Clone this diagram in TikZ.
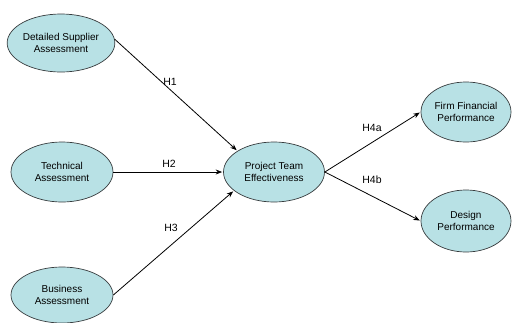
\documentclass[tikz,border=0pt]{standalone}
\usepackage{fontspec}
\setmainfont{Liberation Sans}
\usetikzlibrary{shapes.geometric,arrows.meta}
\definecolor{bubble}{RGB}{184,225,229}
\definecolor{rim}{RGB}{55,60,62}
\tikzset{
  construct/.style={ellipse, draw=rim, line width=0.7pt, fill=bubble,
    inner sep=0pt, align=center, font=\fontsize{10}{12}\selectfont},
  path/.style={draw=black, line width=0.8pt,
    -{Stealth[length=6.5pt,width=5pt]}, shorten >=1pt},
  hyp/.style={font=\fontsize{10.5}{12}\selectfont}
}
\begin{document}
\begin{tikzpicture}[x=1pt,y=-1pt]
  \useasboundingbox (0,0) rectangle (512,322);
  % constructs
  \node[construct, minimum width=102pt, minimum height=58pt] (dsa) at (61,43)
    {Detailed Supplier\\Assessment};
  \node[construct, minimum width=102pt, minimum height=60pt] (tec) at (62,172)
    {Technical\\Assessment};
  \node[construct, minimum width=102pt, minimum height=56pt] (bus) at (62,295)
    {Business\\Assessment};
  \node[construct, minimum width=101pt, minimum height=60pt] (pte) at (274,172)
    {Project Team\\Effectiveness};
  \node[construct, minimum width=90pt, minimum height=60pt] (ffp) at (466,112)
    {Firm Financial\\Performance};
  \node[construct, minimum width=90pt, minimum height=62pt] (dpf) at (466,221)
    {Design\\Performance};
  % hypothesised paths
  \draw[path] (dsa.4) -- (pte.150);
  \draw[path] (tec.east) -- (pte.west);
  \draw[path] (bus.east) -- (pte.205);
  \draw[path] (pte.east) -- (ffp.west);
  \draw[path] (pte.east) -- (dpf.west);
  % path labels
  \node[hyp] (h1) at (170,82) {H1};
  \node[hyp] (h2) at (169,164) {H2};
  \node[hyp] (h3) at (171,228) {H3};
  \node[hyp] (h4a) at (372,128) {H4a};
  \node[hyp] (h4b) at (372,180) {H4b};
\end{tikzpicture}
\end{document}
